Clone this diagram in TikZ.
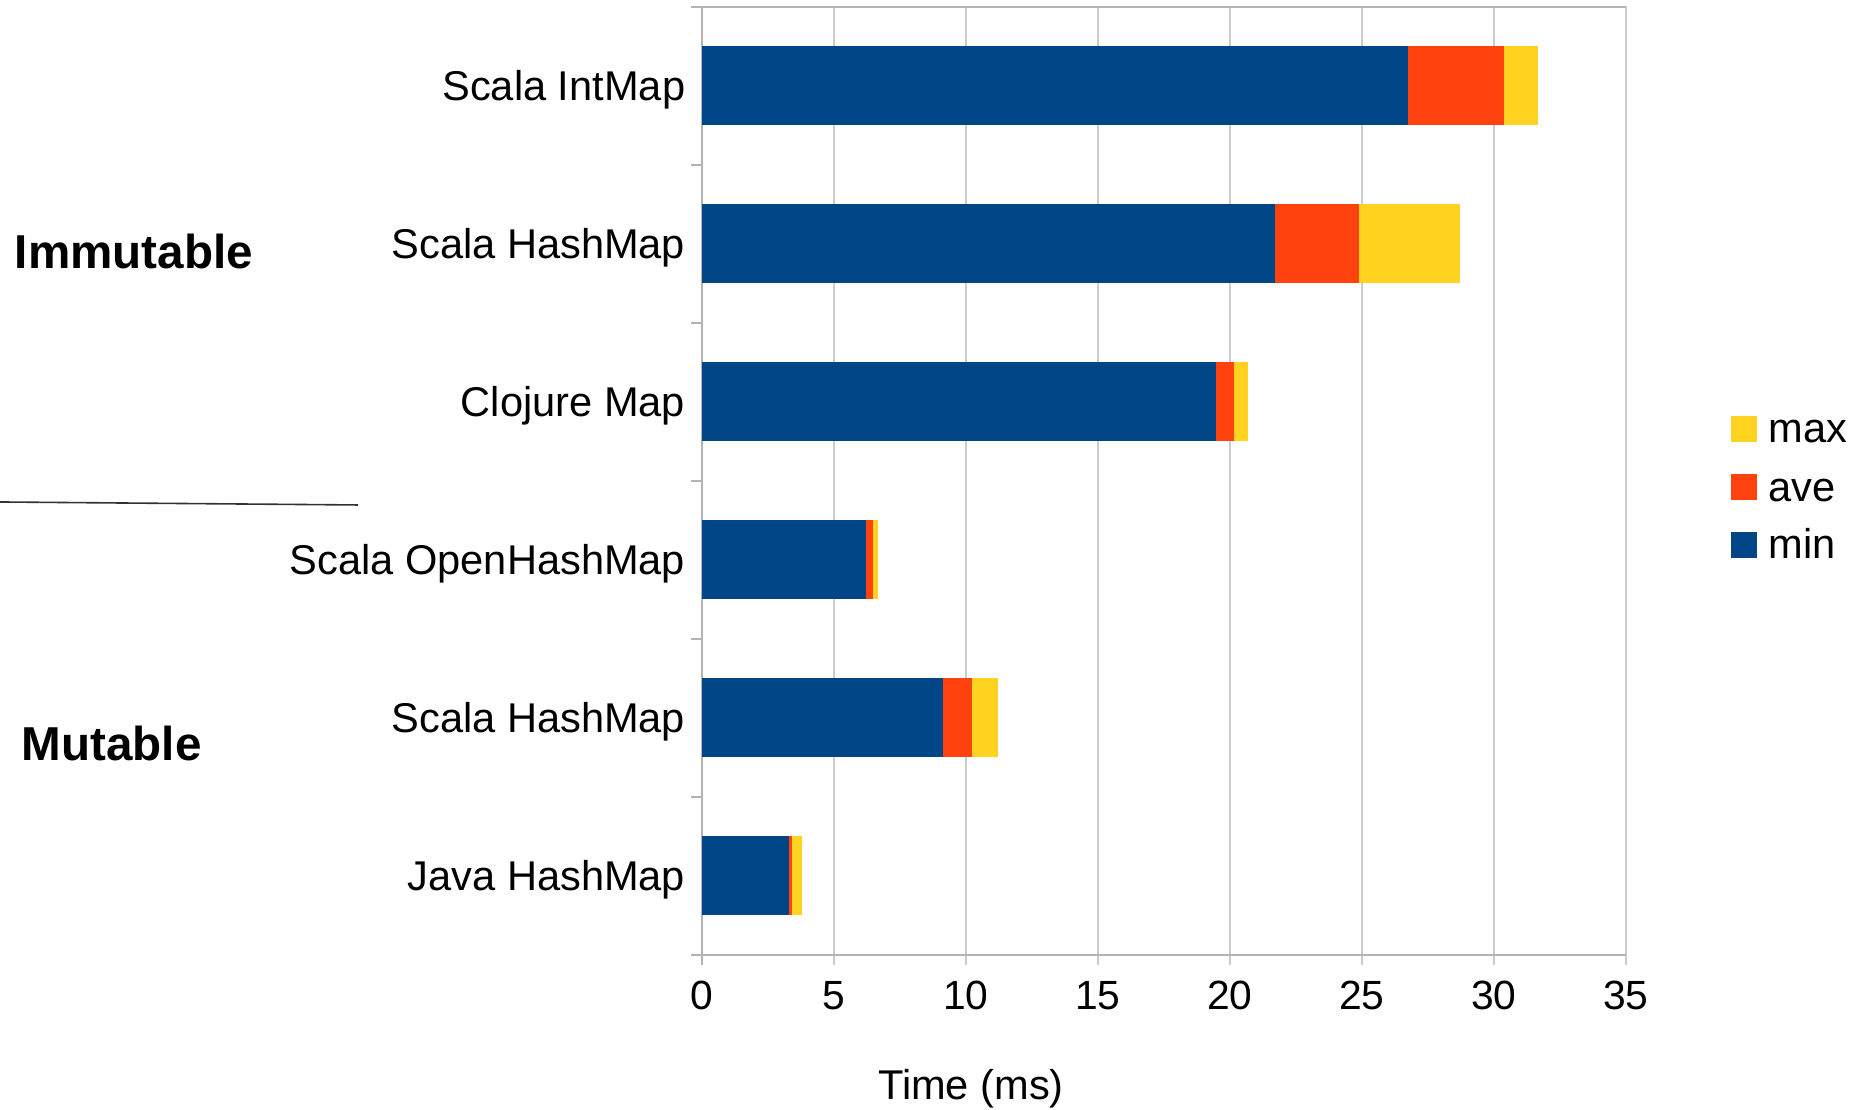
\documentclass[tikz,border=0pt]{standalone}
\usepackage{fontspec}
\setmainfont{Liberation Sans}
\usepackage{xcolor}
\definecolor{BarBlue}{HTML}{004586}
\definecolor{BarRed}{HTML}{FF420E}
\definecolor{BarYellow}{HTML}{FFD320}
\definecolor{GridGrey}{HTML}{CCCCCC}
\definecolor{AxisGrey}{HTML}{B3B3B3}
\definecolor{RuleGrey}{HTML}{333333}
\usepackage{tikz}
\usetikzlibrary{positioning}
\newcommand\AxisX{702}
\newcommand\AxisY{155}
\newcommand\TopY{1103}
\newcommand\CatH{158}
\newcommand\HalfBar{39.5}
\newcommand\Ms{26.4}
\newcommand\StackBar[4]{%
  \fill[BarBlue] (\AxisX,{\AxisY+(#1-0.5)*\CatH-\HalfBar}) rectangle ({\AxisX+#2*\Ms},{\AxisY+(#1-0.5)*\CatH+\HalfBar});
  \fill[BarRed] ({\AxisX+#2*\Ms},{\AxisY+(#1-0.5)*\CatH-\HalfBar}) rectangle ({\AxisX+#3*\Ms},{\AxisY+(#1-0.5)*\CatH+\HalfBar});
  \fill[BarYellow] ({\AxisX+#3*\Ms},{\AxisY+(#1-0.5)*\CatH-\HalfBar}) rectangle ({\AxisX+#4*\Ms},{\AxisY+(#1-0.5)*\CatH+\HalfBar});}
\tikzstyle{catlabel}=[inner sep=0pt,font=\fontsize{10.4}{12}\selectfont]
\tikzstyle{ticklabel}=[inner sep=0pt,anchor=base,font=\fontsize{10.2}{12}\selectfont]
\tikzstyle{group}=[inner sep=0pt,anchor=west,font=\fontsize{11.9}{14}\selectfont\bfseries]
\tikzstyle{gridline}=[draw=GridGrey,line width=0.35pt]
\tikzstyle{axisline}=[draw=AxisGrey,line width=0.5pt]
\tikzstyle{key}=[rectangle,minimum size=6.5pt,inner sep=0pt]

\begin{document}
\begin{tikzpicture}[x=0.25pt,y=0.25pt]
  \useasboundingbox (0,0) rectangle (1857,1110);
  \foreach \t in {5,10,...,35}
    \draw[gridline] ({\AxisX+\t*\Ms},\AxisY-10) -- ({\AxisX+\t*\Ms},\TopY);
  \foreach \t in {0,5,...,35}
    \node[ticklabel] (tick\t) at ({\AxisX+\t*\Ms},100) {\t};
  \draw[axisline] (691,\TopY) -- ({\AxisX+35*\Ms},\TopY);
  \draw[axisline] (691,\AxisY) -- ({\AxisX+35*\Ms},\AxisY);
  \draw[axisline] (\AxisX,\AxisY-10) -- (\AxisX,\TopY);
  \foreach \j in {1,...,5}
    \draw[axisline] (691,{\AxisY+\j*\CatH}) -- (\AxisX,{\AxisY+\j*\CatH});
  \StackBar{1}{3.3}{3.41}{3.78}
  \StackBar{2}{9.12}{10.23}{11.22}
  \StackBar{3}{6.2}{6.47}{6.65}
  \StackBar{4}{19.48}{20.15}{20.68}
  \StackBar{5}{21.72}{24.9}{28.7}
  \StackBar{6}{26.75}{30.38}{31.65}
  \node[catlabel,anchor=base east] (javahm) at (686,{\AxisY+0.5*\CatH-14.5}) {Java HashMap};
  \node[catlabel,anchor=base east] (mscalahm) at (686,{\AxisY+1.5*\CatH-14.5}) {Scala HashMap};
  \node[catlabel,anchor=base east] (openhm) at (686,{\AxisY+2.5*\CatH-14.5}) {Scala OpenHashMap};
  \node[catlabel,anchor=base east] (clojure) at (686,{\AxisY+3.5*\CatH-14.5}) {Clojure Map};
  \node[catlabel,anchor=base east] (iscalahm) at (686,{\AxisY+4.5*\CatH-14.5}) {Scala HashMap};
  \node[catlabel,anchor=base east] (intmap) at (686,{\AxisY+5.5*\CatH-14.5}) {Scala IntMap};
  \node[catlabel,anchor=base] (xtitle) at (971,10) {Time (ms)};
  \node[group] (immutable) at (14,858) {Immutable};
  \node[group] (mutable) at (21,366) {Mutable};
  \coordinate (divleft) at (0,608);
  \coordinate (divright) at (358,605);
  \draw[RuleGrey,line width=0.4pt] (divleft) -- (divright);
  \node[key,fill=BarYellow] (keymax) at (1744,681) {};
  \node[key,fill=BarRed,below=7.7pt of keymax] (keyave) {};
  \node[key,fill=BarBlue,below=7.5pt of keyave] (keymin) {};
  \node[catlabel,anchor=base west] (maxtext) at ([xshift=2.5pt,yshift=-3.5pt]keymax.east) {max};
  \node[catlabel,anchor=base west] (avetext) at ([xshift=2.5pt,yshift=-3.5pt]keyave.east) {ave};
  \node[catlabel,anchor=base west] (mintext) at ([xshift=2.5pt,yshift=-3.5pt]keymin.east) {min};
\end{tikzpicture}
\end{document}
